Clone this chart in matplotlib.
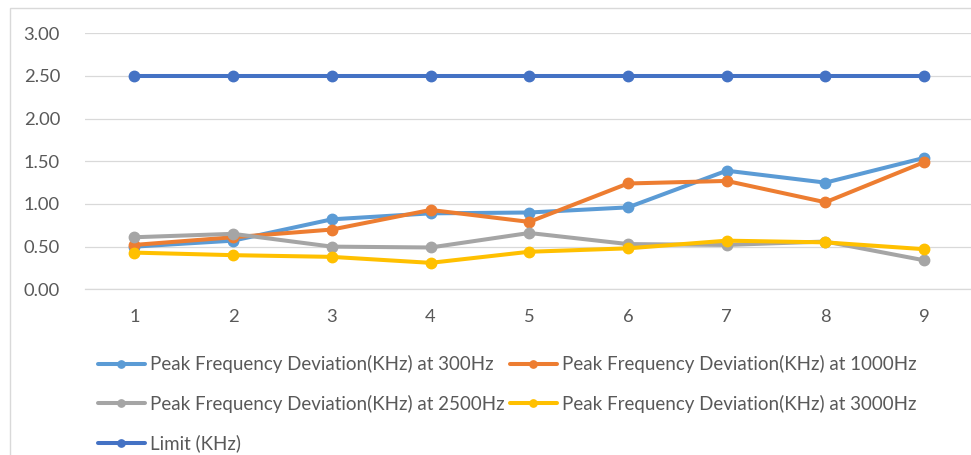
import matplotlib
matplotlib.use("Agg")
import matplotlib.pyplot as plt
from matplotlib.patches import Rectangle

# Data
points = [1, 2, 3, 4, 5, 6, 7, 8, 9]
dev_300 = [0.50, 0.57, 0.82, 0.89, 0.90, 0.96, 1.39, 1.25, 1.54]
dev_1000 = [0.52, 0.61, 0.70, 0.93, 0.79, 1.24, 1.27, 1.02, 1.49]
dev_2500 = [0.61, 0.65, 0.50, 0.49, 0.66, 0.53, 0.52, 0.56, 0.34]
dev_3000 = [0.43, 0.40, 0.38, 0.31, 0.44, 0.48, 0.57, 0.55, 0.47]
limit = [2.50] * 9
y_ticks = [0.0, 0.5, 1.0, 1.5, 2.0, 2.5, 3.0]

labels = [
    'Peak Frequency Deviation(KHz) at 300Hz',
    'Peak Frequency Deviation(KHz) at 1000Hz',
    'Peak Frequency Deviation(KHz) at 2500Hz',
    'Peak Frequency Deviation(KHz) at 3000Hz',
    'Limit (KHz)',
]
colors = ['#5B9BD5', '#ED7D31', '#A5A5A5', '#FFC000', '#4472C4']

plt.rcParams['font.family'] = ['Lato', 'DejaVu Sans']

W, H = 971, 455
fig = plt.figure(figsize=(W / 100, H / 100), dpi=100)

# chart area border (cropped on the right and bottom)
fig.patches.append(Rectangle((10 / W, -0.1), 1.2, 1 - 8 / H + 0.1,
                             transform=fig.transFigure, fill=False,
                             edgecolor='#D9D9D9', linewidth=1))

ax = fig.add_axes([85 / W, 1 - 289.3 / H, 888.5 / W, 256 / H])

series = [dev_300, dev_1000, dev_2500, dev_3000, limit]
handles = []
for vals, lab, col in zip(series, labels, colors):
    h, = ax.plot(points, vals, color=col, linewidth=2.9, marker='o',
                 markersize=7.5, label=lab, solid_capstyle='round')
    handles.append(h)

ax.set_xlim(0.5, 9.5)
ax.set_ylim(0, 3)
ax.set_xticks(points)
ax.set_yticks(y_ticks)
ax.set_yticklabels([f'{v:.2f}' for v in y_ticks])
ax.grid(axis='y', color='#D9D9D9', linewidth=0.9)
ax.set_axisbelow(True)
for s in ['top', 'right', 'left']:
    ax.spines[s].set_visible(False)
ax.spines['bottom'].set_color('#D9D9D9')
ax.spines['bottom'].set_linewidth(0.9)
ax.tick_params(length=0, labelsize=13.2, labelcolor='#595959')
ax.tick_params(axis='y', pad=18)
ax.tick_params(axis='x', pad=14)

leg_kw = dict(loc='upper left', frameon=False, borderpad=0, borderaxespad=0,
              fontsize=13.5, labelcolor='#595959', handlelength=2.5,
              handletextpad=0.27, labelspacing=1.15, markerscale=0.7,
              bbox_transform=fig.transFigure)
leg1 = fig.legend([handles[0], handles[2], handles[4]],
                  [labels[0], labels[2], labels[4]],
                  bbox_to_anchor=(98 / W, 1 - 355 / H), **leg_kw)
leg2 = fig.legend([handles[1], handles[3]], [labels[1], labels[3]],
                  bbox_to_anchor=(510 / W, 1 - 355 / H), **leg_kw)

fig.savefig('out.png', dpi=100)
